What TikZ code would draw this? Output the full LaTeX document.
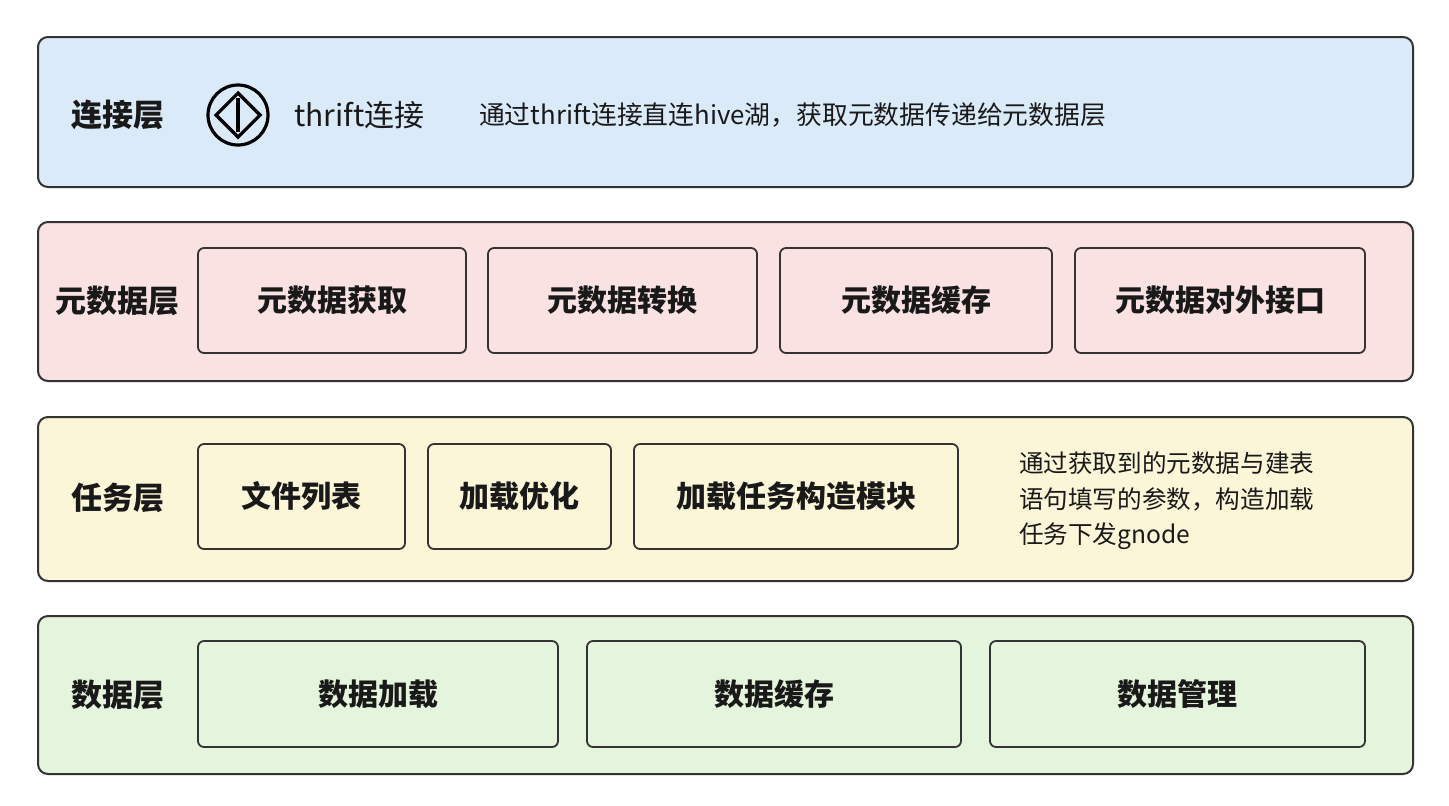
\documentclass[tikz,border=0pt]{standalone}
\usepackage{fontspec}
\setmainfont{Noto Sans CJK SC}
\begin{document}
\begin{tikzpicture}[x=0.5pt,y=-0.5pt,
  layer/.style={draw=black!80,line width=1pt,rounded corners=5pt},
  box/.style={draw=black!80,line width=0.9pt,rounded corners=3pt,font=\fontsize{15}{18}\selectfont\bfseries,text=black!90},
  lab/.style={font=\fontsize{15.5}{18}\selectfont\bfseries,text=black!90},
  desc/.style={font=\fontsize{12.9}{16}\selectfont,text=black!90,align=left}]
\fill[white] (0,0) rectangle (1449,805);
\useasboundingbox (0,0) rectangle (1449,805);
% layers
\draw[layer,fill={rgb,255:red,219;green,234;blue,249}] (38,37) rectangle (1413,187);
\draw[layer,fill={rgb,255:red,251;green,226;blue,226}] (38,222) rectangle (1413,381);
\draw[layer,fill={rgb,255:red,252;green,246;blue,216}] (38,417) rectangle (1413,581);
\draw[layer,fill={rgb,255:red,229;green,244;blue,220}] (38,616) rectangle (1413,774);
% connection layer
\node[lab] (l1) at (118,115) {连接层};
\node[draw,circle,line width=1.6pt,minimum size=30pt,inner sep=0] (ic) at (238,115) {};
\draw[line width=1.6pt] (ic.center)++(-22,0) -- ++(22,-22) -- ++(22,22) -- ++(-22,22) -- cycle;
\draw[line width=1.6pt] (ic.center)++(0,-17) -- ++(0,34);
\node[anchor=west,font=\fontsize{15}{18}\selectfont,text=black!90] (th) at (287,115) {thrift连接};
\node[desc,anchor=west] (d1) at (472,115) {通过thrift连接直连hive湖，获取元数据传递给元数据层};
% metadata layer
\node[lab] (l2) at (117,301) {元数据层};
\foreach \a/\b/\t [count=\i] in {198/466/元数据获取,488/757/元数据转换,780/1052/元数据缓存,1075/1365/元数据对外接口}
  \node[box,minimum width={(\b-\a)*0.5pt},minimum height=52.5pt] (m\i) at ({(\a+\b)/2},300.5) {\t};
% task layer
\node[lab] (l3) at (118,498) {任务层};
\foreach \a/\b/\t [count=\i] in {198/405/文件列表,428/611/加载优化,634/958/加载任务构造模块}
  \node[box,minimum width={(\b-\a)*0.5pt},minimum height=52.5pt] (t\i) at ({(\a+\b)/2},496.5) {\t};
\node[desc,anchor=west,font=\fontsize{12.3}{17.8}\selectfont] (d3) at (1012,501) {通过获取到的元数据与建表\\语句填写的参数，构造加载\\任务下发gnode};
% data layer
\node[lab] (l4) at (118,695) {数据层};
\foreach \a/\b/\t [count=\i] in {198/558/数据加载,587/961/数据缓存,990/1365/数据管理}
  \node[box,minimum width={(\b-\a)*0.5pt},minimum height=53pt] (g\i) at ({(\a+\b)/2},694) {\t};
\end{tikzpicture}
\end{document}
